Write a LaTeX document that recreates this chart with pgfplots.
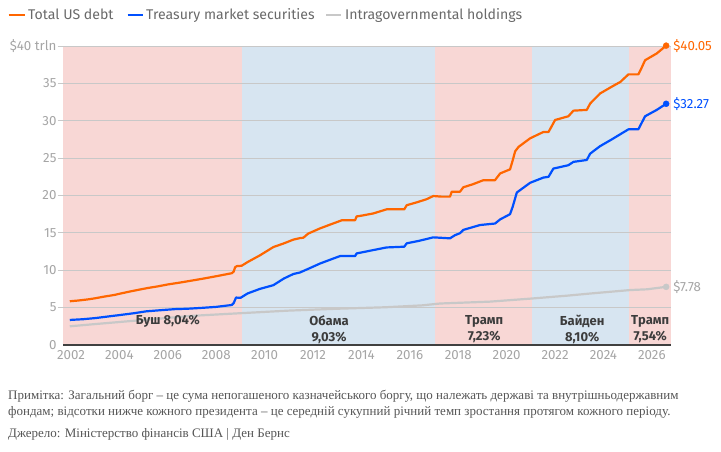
\documentclass[border=0pt]{standalone}
\usepackage{fontspec}
\setmainfont{Fira Sans}
\newfontfamily\notefont[FakeStretch=1.0]{Liberation Serif}
\usepackage{pgfplots}
\usepackage{pgfplotstable}
\pgfplotsset{compat=1.18}
\definecolor{cOrange}{RGB}{255,102,0}
\definecolor{cBlue}{RGB}{0,80,255}
\definecolor{cGray}{RGB}{200,200,200}
\definecolor{rep}{RGB}{248,215,213}
\definecolor{dem}{RGB}{215,229,241}
\definecolor{tickc}{RGB}{165,165,165}
\definecolor{txt}{RGB}{105,105,105}
\definecolor{lab}{RGB}{60,60,60}
\definecolor{gridc}{RGB}{200,200,200}
\definecolor{notec}{RGB}{85,85,85}

\pgfplotstableread{
x y
2001.95 5.85
2002.3 5.95
2002.7 6.1
2003.0 6.25
2003.33 6.45
2003.8 6.7
2004.0 6.85
2004.5 7.2
2005.13 7.6
2005.6 7.85
2006.0 8.1
2006.5 8.35
2007.05 8.65
2007.5 8.9
2008.0 9.2
2008.4 9.45
2008.64 9.6
2008.72 9.8
2008.78 10.4
2008.85 10.55
2009.05 10.6
2009.3 11.1
2009.81 12.0
2010.36 13.1
2010.8 13.6
2011.19 14.1
2011.46 14.3
2011.6 14.35
2011.8 14.9
2012.29 15.6
2012.7 16.1
2013.12 16.6
2013.2 16.7
2013.74 16.7
2013.8 17.2
2014.0 17.3
2014.49 17.6
2015.04 18.15
2015.77 18.15
2015.87 18.7
2016.3 19.1
2016.69 19.5
2016.97 19.93
2017.3 19.85
2017.66 19.85
2017.73 20.5
2018.07 20.5
2018.21 21.1
2018.6 21.5
2019.04 22.05
2019.52 22.05
2019.73 22.95
2020.14 23.5
2020.25 24.7
2020.35 25.9
2020.49 26.5
2020.97 27.65
2021.52 28.5
2021.73 28.5
2021.85 29.2
2022.0 30.1
2022.55 30.6
2022.76 31.35
2023.31 31.45
2023.45 32.3
2023.86 33.65
2024.34 34.55
2024.7 35.2
2025.03 36.2
2025.44 36.2
2025.55 36.9
2025.72 38.1
2026.2 39.0
2026.59 40.05
}\totaldebt

\pgfplotstableread{
x y
2001.95 3.35
2002.5 3.45
2003.0 3.6
2003.5 3.8
2004.0 4.0
2004.6 4.25
2005.1 4.5
2005.68 4.65
2006.3 4.8
2006.8 4.85
2007.33 4.95
2008.0 5.1
2008.64 5.35
2008.72 5.6
2008.82 6.35
2009.0 6.3
2009.3 6.9
2009.8 7.5
2010.36 8.0
2010.8 8.9
2011.19 9.5
2011.46 9.7
2011.88 10.3
2012.29 10.9
2012.7 11.4
2013.12 11.9
2013.74 11.9
2013.8 12.25
2014.49 12.7
2015.04 13.05
2015.77 13.15
2015.87 13.6
2016.4 13.95
2016.97 14.4
2017.66 14.27
2017.87 14.7
2018.07 14.95
2018.21 15.4
2018.9 16.05
2019.52 16.25
2019.73 16.8
2020.14 17.5
2020.25 18.5
2020.42 20.4
2020.97 21.7
2021.52 22.4
2021.73 22.5
2021.93 23.6
2022.55 24.05
2022.76 24.5
2023.31 24.75
2023.45 25.6
2023.86 26.6
2024.34 27.5
2025.03 28.85
2025.44 28.85
2025.72 30.6
2026.2 31.45
2026.59 32.27
}\treasury

\pgfplotstableread{
x y
2001.95 2.5
2003.0 2.8
2005.0 3.35
2007.0 3.9
2008.98 4.25
2011.0 4.6
2013.0 4.85
2015.0 5.05
2016.5 5.3
2017.25 5.55
2019.31 5.8
2020.97 6.2
2022.5 6.6
2023.5 6.9
2025.1 7.35
2025.8 7.45
2026.59 7.78
}\intragov

\begin{document}
\begin{tikzpicture}
\path (0pt,0pt) rectangle (721pt,452pt);
\begin{axis}[
  at={(63pt,107pt)}, anchor=south west,
  width=608pt, height=299pt, scale only axis,
  xmin=2001.67, xmax=2026.79, ymin=0, ymax=40,
  clip=false,
  axis line style={draw=none},
  major tick length=0pt,
  xtick={2002,2004,...,2026},
  xticklabels={2002,2004,2006,2008,2010,2012,2014,2016,2018,2020,2022,2024,2026},
  ytick={0,5,...,40},
  yticklabels={0,5,10,15,20,25,30,35,\$40 trln},
  /pgf/number format/assume math mode=true,
  tick label style={font=\fontsize{13.3}{15}\selectfont, text=tickc},
  x tick label style={yshift=-2pt},
  y tick label style={xshift=-3pt},
]
\fill[rep] (axis cs:2001.67,0) rectangle (axis cs:2009.05,40);
\fill[dem] (axis cs:2009.05,0) rectangle (axis cs:2017.05,40);
\fill[rep] (axis cs:2017.05,0) rectangle (axis cs:2021.05,40);
\fill[dem] (axis cs:2021.05,0) rectangle (axis cs:2025.05,40);
\fill[rep] (axis cs:2025.05,0) rectangle (axis cs:2026.79,40);
\pgfplotsinvokeforeach{5,10,15,20,25,30,35,40}{
  \draw[gridc, line width=0.9pt] (axis cs:2001.45,#1) -- (axis cs:2026.79,#1);
}

\addplot[cGray, line width=2.2pt, line join=round] table {\intragov};
\addplot[cBlue, line width=2.2pt, line join=round] table {\treasury};
\addplot[cOrange, line width=2.2pt, line join=round] table {\totaldebt};

\addplot[only marks, mark=*, mark size=3pt, cGray] coordinates {(2026.59,7.78)};
\addplot[only marks, mark=*, mark size=3pt, cBlue] coordinates {(2026.59,32.27)};
\addplot[only marks, mark=*, mark size=3pt, cOrange] coordinates {(2026.59,40.05)};

\draw[line width=1.3pt, black!75] (axis cs:2001.67,0) -- (axis cs:2026.79,0);

\node[anchor=west, text=cOrange, inner sep=0, xshift=7pt, font=\fontsize{13.3}{15}\selectfont] at (axis cs:2026.59,40.05) {\$40.05};
\node[anchor=west, text=cBlue, inner sep=0, xshift=7pt, font=\fontsize{13.3}{15}\selectfont] at (axis cs:2026.59,32.27) {\$32.27};
\node[anchor=west, text=tickc, inner sep=0, xshift=7pt, font=\fontsize{13.3}{15}\selectfont] at (axis cs:2026.59,7.78) {\$7.78};

\node[align=center, text=lab, font=\fontsize{13}{16}\selectfont\bfseries] at (axis cs:2006.0,3.15) {Буш 8,04\%};
\node[align=center, text=lab, font=\fontsize{13}{16}\selectfont\bfseries] at (axis cs:2012.66,2.1) {Обама\\9,03\%};
\node[align=center, text=lab, font=\fontsize{13}{16}\selectfont\bfseries] at (axis cs:2019.07,2.1) {Трамп\\7,23\%};
\node[align=center, text=lab, font=\fontsize{13}{16}\selectfont\bfseries] at (axis cs:2023.12,2.1) {Байден\\8,10\%};
\node[align=center, text=lab, font=\fontsize{13}{16}\selectfont\bfseries] at (axis cs:2025.93,2.1) {Трамп\\7,54\%};
\end{axis}

% legend
\draw[cOrange, line width=2pt] (8.6pt,436.5pt) -- (24.8pt,436.5pt);
\node[anchor=base west, inner sep=0, text=txt, font=\fontsize{14.1}{16}\selectfont] at (28pt,432pt) {Total US debt};
\draw[cBlue, line width=2pt] (127.6pt,436.5pt) -- (143pt,436.5pt);
\node[anchor=base west, inner sep=0, text=txt, font=\fontsize{14.1}{16}\selectfont] at (146pt,432pt) {Treasury market securities};
\draw[cGray, line width=2pt] (326pt,436.5pt) -- (341pt,436.5pt);
\node[anchor=base west, inner sep=0, text=txt, font=\fontsize{14.1}{16}\selectfont] at (345pt,432pt) {Intragovernmental holdings};

% note
\node[anchor=base west, inner sep=0, text=notec, font=\notefont\fontsize{13}{16}\selectfont] at (8pt,52pt) {Примітка: Загальний борг – це сума непогашеного казначейського боргу, що належать державі та внутрішньодержавним};
\node[anchor=base west, inner sep=0, text=notec, font=\notefont\fontsize{13}{16}\selectfont] at (8pt,36pt) {фондам; відсотки нижче кожного президента – це середній сукупний річний темп зростання протягом кожного періоду.};
\node[anchor=base west, inner sep=0, text=notec, font=\notefont\fontsize{13}{16}\selectfont] at (8pt,14pt) {Джерело: Міністерство фінансів США | Ден Бернс};
\end{tikzpicture}
\end{document}
